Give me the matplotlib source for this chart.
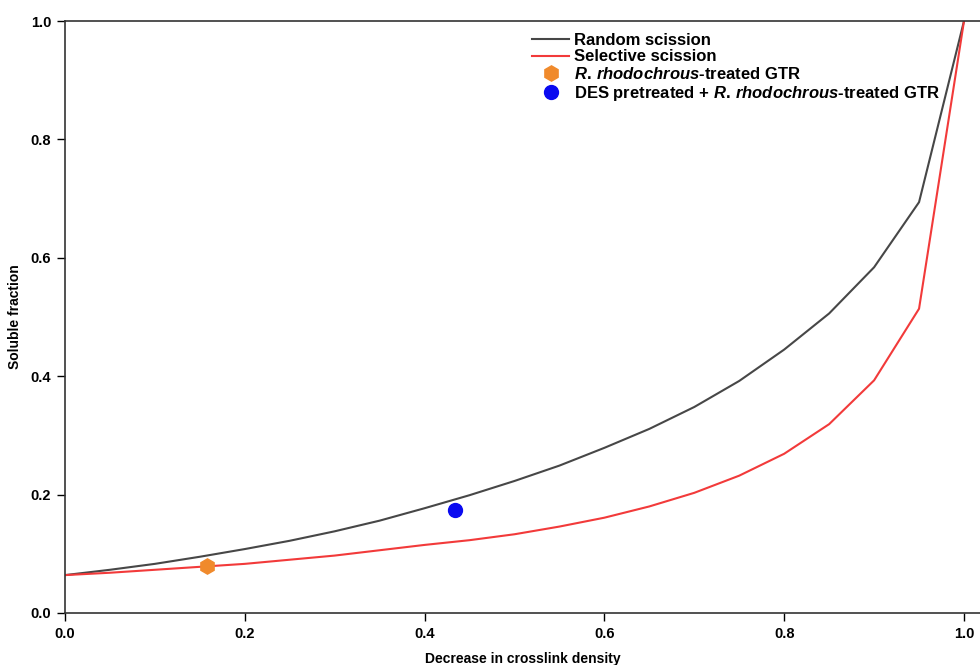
import matplotlib
matplotlib.use('Agg')
from matplotlib import pyplot as plt

plt.rcParams['font.family'] = ['Liberation Sans', 'DejaVu Sans']
plt.rcParams['font.weight'] = 'bold'
plt.rcParams['mathtext.fontset'] = 'custom'
plt.rcParams['mathtext.it'] = 'Liberation Sans:italic:bold'
plt.rcParams['mathtext.rm'] = 'Liberation Sans:bold'

# crosslink density decrease (x) and soluble fraction (y)
density = [0.0, 0.05, 0.1, 0.15, 0.2, 0.25, 0.3, 0.35, 0.4, 0.45, 0.5,
           0.55, 0.6, 0.65, 0.7, 0.75, 0.8, 0.85, 0.9, 0.95, 1.0]
random_sol = [0.064, 0.073, 0.083, 0.095, 0.108, 0.122, 0.138, 0.156, 0.177, 0.199, 0.223,
              0.249, 0.279, 0.311, 0.348, 0.392, 0.445, 0.506, 0.584, 0.694, 1.0]
selective_sol = [0.064, 0.068, 0.073, 0.078, 0.083, 0.090, 0.097, 0.106, 0.115, 0.123, 0.133,
                 0.146, 0.161, 0.180, 0.203, 0.232, 0.269, 0.319, 0.393, 0.514, 1.0]

rr_x, rr_y = [0.158], [0.079]
des_x, des_y = [0.434], [0.174]

fig = plt.figure(figsize=(9.8, 6.65), dpi=100)
ax = fig.add_axes([0.0663, 0.0782, 0.9337, 0.8902])

ax.plot(density, random_sol, color='#474747', lw=1.5, label='Random scission')
ax.plot(density, selective_sol, color='#f23a3a', lw=1.5, label='Selective scission')
ax.plot(rr_x, rr_y, 'h', color='#f08a2c', ms=11, ls='none',
        label=r'$\mathit{R.\,rhodochrous}$-treated GTR')
ax.plot(des_x, des_y, 'o', color='#0a0af0', ms=10, ls='none',
        label=r'DES pretreated + $\mathit{R.\,rhodochrous}$-treated GTR')

ax.set_xlim(0, 1.0178)
ax.set_ylim(0, 1.0)
ax.set_xticks([0, 0.2, 0.4, 0.6, 0.8, 1.0])
ax.set_yticks([0, 0.2, 0.4, 0.6, 0.8, 1.0])
ax.set_xticklabels(['0.0', '0.2', '0.4', '0.6', '0.8', '1.0'])
ax.set_yticklabels(['0.0', '0.2', '0.4', '0.6', '0.8', '1.0'])
ax.tick_params(direction='out', length=6, width=1, labelsize=10.5, pad=4)
for lab in ax.get_xticklabels() + ax.get_yticklabels():
    lab.set_fontweight('bold')
ax.spines['right'].set_visible(False)
for s in ['left', 'bottom', 'top']:
    ax.spines[s].set_color('#333333')
    ax.spines[s].set_linewidth(1.2)

ax.set_xlabel('Decrease in crosslink density', fontsize=10, fontweight='bold', labelpad=8)
ax.set_ylabel('Soluble fraction', fontsize=10, fontweight='bold', labelpad=6)

ax.legend(loc='upper left', bbox_to_anchor=(0.498, 1.0), frameon=False,
          prop={'size': 12, 'weight': 'bold'}, handlelength=2.2, handletextpad=0.3,
          labelspacing=0.1, borderaxespad=0.3)

fig.savefig('out.png', dpi=100)
